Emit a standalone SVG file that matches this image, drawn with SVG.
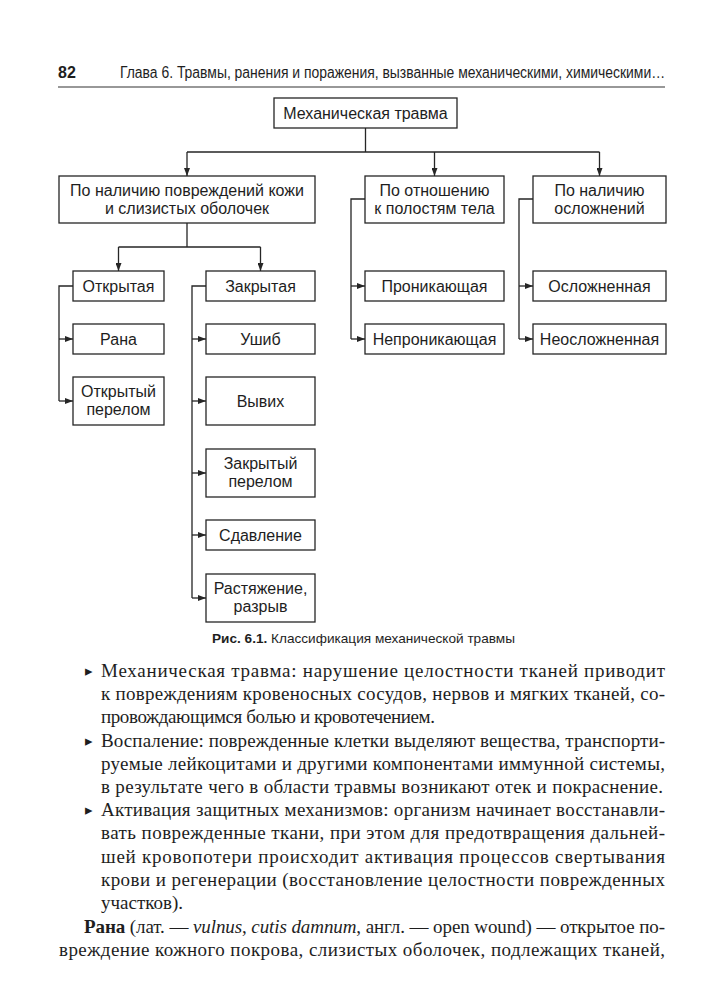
<svg xmlns="http://www.w3.org/2000/svg" width="704" height="1000" viewBox="0 0 704 1000">
<defs>
<style>
.bx{fill:#fff;stroke:#262626;stroke-width:1.3}
.t{font-family:"Liberation Sans",Arial,sans-serif;font-size:16px;fill:#1e1e1e;text-anchor:middle}
.ln{fill:none;stroke:#262626;stroke-width:1.3}
.ar{fill:none;stroke:#262626;stroke-width:1.3;marker-end:url(#ah)}
.body{font-family:"Liberation Serif","Times New Roman",serif;font-size:19px;fill:#1e1e1e}
.bul{font-family:"DejaVu Sans",sans-serif;font-size:15px;fill:#1e1e1e}
.hd{font-family:"Liberation Sans",Arial,sans-serif;font-size:16px;fill:#1e1e1e}
.cap{font-family:"Liberation Sans",Arial,sans-serif;font-size:13.5px;fill:#1e1e1e}
</style>
<marker id="ah" viewBox="0 0 8 6" refX="8" refY="3" markerWidth="8" markerHeight="6" markerUnits="userSpaceOnUse" orient="auto">
<path d="M0,0 L8,3 L0,6 z" fill="#262626"/>
</marker>
</defs>
<rect width="704" height="1000" fill="#fff"/>

<g id="header">
<text class="hd" x="58" y="78" font-weight="bold">82</text>
<text class="hd" transform="translate(120 78) scale(0.87 1)" x="0" y="0">Глава 6. Травмы, ранения и поражения, вызванные механическими, химическими…</text>
<line x1="58" y1="87" x2="665" y2="87" stroke="#333" stroke-width="1.2"/>
</g>

<g id="connectors">
<path class="ln" d="M365.5,128 V152 M187,152 H599.5"/>
<path class="ar" d="M187,152 V176"/>
<path class="ar" d="M434.5,152 V176"/>
<path class="ar" d="M599.5,152 V176"/>
<path class="ln" d="M187,223 V247 M118.5,247 H260.5"/>
<path class="ar" d="M118.5,247 V271"/>
<path class="ar" d="M260.5,247 V271"/>
<path class="ln" d="M73,286 H59 V401"/>
<path class="ar" d="M59,339 H73"/>
<path class="ar" d="M59,401 H73"/>
<path class="ln" d="M206,286 H192 V598"/>
<path class="ar" d="M192,339 H206"/>
<path class="ar" d="M192,401 H206"/>
<path class="ar" d="M192,473 H206"/>
<path class="ar" d="M192,535 H206"/>
<path class="ar" d="M192,598 H206"/>
<path class="ln" d="M365,199 H351 V339"/>
<path class="ar" d="M351,286 H365"/>
<path class="ar" d="M351,339 H365"/>
<path class="ln" d="M533,199 H519 V339"/>
<path class="ar" d="M519,286 H533"/>
<path class="ar" d="M519,339 H533"/>
</g>

<g id="n-top"><rect class="bx" x="274" y="98" width="183" height="30"/><text class="t" x="365.5" y="118.5">Механическая травма</text></g>
<g id="n-skin"><rect class="bx" x="59" y="176" width="256" height="47"/><text class="t" x="187" y="196">По наличию повреждений кожи</text><text class="t" x="187" y="214">и слизистых оболочек</text></g>
<g id="n-cav"><rect class="bx" x="365" y="176" width="139" height="47"/><text class="t" x="434.5" y="196">По отношению</text><text class="t" x="434.5" y="214">к полостям тела</text></g>
<g id="n-compl"><rect class="bx" x="533" y="176" width="133" height="47"/><text class="t" x="599.5" y="196">По наличию</text><text class="t" x="599.5" y="214">осложнений</text></g>

<g id="n-open"><rect class="bx" x="73" y="271" width="91" height="30"/><text class="t" x="118.5" y="291.5">Открытая</text></g>
<g id="n-closed"><rect class="bx" x="206" y="271" width="109" height="30"/><text class="t" x="260.5" y="291.5">Закрытая</text></g>
<g id="n-wound"><rect class="bx" x="73" y="324" width="91" height="30"/><text class="t" x="118.5" y="344.5">Рана</text></g>
<g id="n-openfr"><rect class="bx" x="73" y="377" width="91" height="48"/><text class="t" x="118.5" y="397">Открытый</text><text class="t" x="118.5" y="415">перелом</text></g>
<g id="n-bruise"><rect class="bx" x="206" y="324" width="109" height="30"/><text class="t" x="260.5" y="344.5">Ушиб</text></g>
<g id="n-disl"><rect class="bx" x="206" y="377" width="109" height="48"/><text class="t" x="260.5" y="406.5">Вывих</text></g>
<g id="n-closedfr"><rect class="bx" x="206" y="449" width="109" height="48"/><text class="t" x="260.5" y="469">Закрытый</text><text class="t" x="260.5" y="487">перелом</text></g>
<g id="n-crush"><rect class="bx" x="206" y="520" width="109" height="30"/><text class="t" x="260.5" y="540.5">Сдавление</text></g>
<g id="n-sprain"><rect class="bx" x="206" y="574" width="109" height="48"/><text class="t" x="260.5" y="594">Растяжение,</text><text class="t" x="260.5" y="612">разрыв</text></g>
<g id="n-pen"><rect class="bx" x="365" y="271" width="139" height="30"/><text class="t" x="434.5" y="291.5">Проникающая</text></g>
<g id="n-nonpen"><rect class="bx" x="365" y="324" width="139" height="30"/><text class="t" x="434.5" y="344.5">Непроникающая</text></g>
<g id="n-cplx"><rect class="bx" x="533" y="271" width="133" height="30"/><text class="t" x="599.5" y="291.5">Осложненная</text></g>
<g id="n-uncplx"><rect class="bx" x="533" y="324" width="133" height="30"/><text class="t" x="599.5" y="344.5">Неосложненная</text></g>

<g id="caption">
<text class="cap" x="212" y="643" textLength="303" lengthAdjust="spacingAndGlyphs"><tspan font-weight="bold">Рис. 6.1.</tspan> Классификация механической травмы</text>
</g>

<g id="body">
<text class="bul" x="85" y="676">▸</text>
<text class="bul" x="85" y="746">▸</text>
<text class="bul" x="85" y="815">▸</text>
<text class="body" x="101" y="677" textLength="564" lengthAdjust="spacing">Механическая травма: нарушение целостности тканей приводит</text>
<text class="body" x="101" y="700" textLength="564" lengthAdjust="spacing">к повреждениям кровеносных сосудов, нервов и мягких тканей, со-</text>
<text class="body" x="101" y="723" textLength="334" lengthAdjust="spacing">провождающимся болью и кровотечением.</text>
<text class="body" x="101" y="747" textLength="564" lengthAdjust="spacing">Воспаление: поврежденные клетки выделяют вещества, транспорти-</text>
<text class="body" x="101" y="770" textLength="564" lengthAdjust="spacing">руемые лейкоцитами и другими компонентами иммунной системы,</text>
<text class="body" x="101" y="793" textLength="562" lengthAdjust="spacing">в результате чего в области травмы возникают отек и покраснение.</text>
<text class="body" x="101" y="816" textLength="564" lengthAdjust="spacing">Активация защитных механизмов: организм начинает восстанавли-</text>
<text class="body" x="101" y="839" textLength="564" lengthAdjust="spacing">вать поврежденные ткани, при этом для предотвращения дальней-</text>
<text class="body" x="101" y="863" textLength="564" lengthAdjust="spacing">шей кровопотери происходит активация процессов свертывания</text>
<text class="body" x="101" y="886" textLength="564" lengthAdjust="spacing">крови и регенерации (восстановление целостности поврежденных</text>
<text class="body" x="101" y="909">участков).</text>
<text class="body" x="84" y="933" textLength="581" lengthAdjust="spacing"><tspan font-weight="bold">Рана</tspan> (лат. — <tspan font-style="italic">vulnus</tspan>, <tspan font-style="italic">cutis damnum</tspan>, англ. — open wound) — открытое по-</text>
<text class="body" x="59" y="956" textLength="606" lengthAdjust="spacing">вреждение кожного покрова, слизистых оболочек, подлежащих тканей,</text>
</g>
</svg>
